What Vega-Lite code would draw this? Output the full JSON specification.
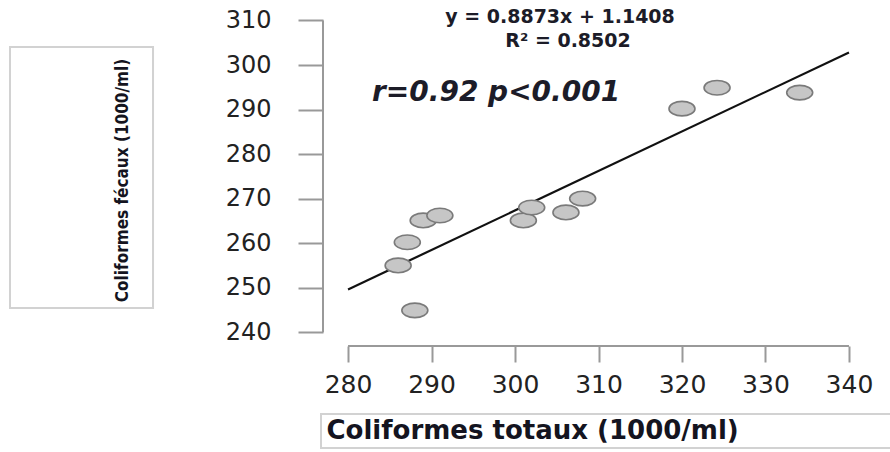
{
  "$schema": "https://vega.github.io/schema/vega-lite/v6.json",
  "autosize": "none",
  "width": 551,
  "height": 338,
  "padding": {"left": 323, "top": 8, "right": 16, "bottom": 106},
  "background": "white",
  "config": {"view": {"stroke": null}},
  "datasets": {
    "points": [
      {"totaux": 289.0, "fecaux": 265.1},
      {"totaux": 291.0, "fecaux": 266.2},
      {"totaux": 287.1, "fecaux": 260.2},
      {"totaux": 286.0, "fecaux": 255.0},
      {"totaux": 288.0, "fecaux": 244.9},
      {"totaux": 301.0, "fecaux": 265.1},
      {"totaux": 302.0, "fecaux": 268.0},
      {"totaux": 306.1, "fecaux": 266.9},
      {"totaux": 308.1, "fecaux": 270.0},
      {"totaux": 320.0, "fecaux": 290.2},
      {"totaux": 324.2, "fecaux": 294.9},
      {"totaux": 334.1, "fecaux": 293.8}
    ],
    "fit": [
      {"totaux": 280, "fecaux": 249.59},
      {"totaux": 340, "fecaux": 302.82}
    ],
    "one": [{}]
  },
  "layer": [
    {
      "data": {"name": "one"},
      "mark": {"type": "rect", "fillOpacity": 0, "stroke": "#d2d2d2", "strokeWidth": 2},
      "encoding": {
        "x": {"datum": 239.51, "type": "quantitative", "scale": {"domain": [277, 343], "nice": false, "zero": false},
          "axis": {
            "values": [280, 290, 300, 310, 320, 330, 340],
            "domain": false, "grid": false,
            "tickColor": "#999999", "tickWidth": 2, "tickSize": 16,
            "labelFont": "DejaVu Sans", "labelFontSize": 25, "labelColor": "#222222", "labelPadding": 10,
            "labelFlush": false, "labelOverlap": false,
            "title": "Coliformes totaux (1000/ml)",
            "titleFont": "DejaVu Sans", "titleFontWeight": "bold", "titleFontSize": 26, "titleColor": "#141420",
            "titleAlign": "left", "titleBaseline": "middle", "titleAnchor": "start",
            "titleX": 3, "titleY": 84
          }
        },
        "x2": {"datum": 256.64},
        "y": {"datum": 304.04, "type": "quantitative", "scale": {"domain": [236.9, 312.8], "nice": false, "zero": false},
          "axis": {
            "values": [240, 250, 260, 270, 280, 290, 300, 310],
            "domain": false, "grid": false,
            "tickColor": "#999999", "tickWidth": 2, "tickSize": 25,
            "labelFont": "DejaVu Sans", "labelFontSize": 24, "labelColor": "#222222", "labelPadding": 27,
            "labelFlush": false, "labelOverlap": false,
            "title": "Coliformes fécaux (1000/ml)",
            "titleFont": "Liberation Sans Narrow, DejaVu Sans Condensed, Roboto Condensed, Liberation Sans",
            "titleFontWeight": "bold", "titleFontSize": 17, "titleColor": "#141420",
            "titleAngle": 270, "titleAlign": "center", "titleBaseline": "middle",
            "titleX": -201, "titleY": 172
          }
        },
        "y2": {"datum": 245.43}
      }
    },
    {
      "data": {"name": "one"},
      "mark": {"type": "rect", "fillOpacity": 0, "stroke": "#d2d2d2", "strokeWidth": 2},
      "encoding": {
        "x": {"datum": 276.76, "type": "quantitative"},
        "x2": {"datum": 346.12},
        "y": {"datum": 221.63, "type": "quantitative"},
        "y2": {"datum": 213.99}
      }
    },
    {
      "data": {"name": "one"},
      "mark": {"type": "rule", "stroke": "#999999", "strokeWidth": 2},
      "encoding": {
        "x": {"datum": 280, "type": "quantitative"},
        "x2": {"datum": 340},
        "y": {"datum": 236.9, "type": "quantitative"}
      }
    },
    {
      "data": {"name": "one"},
      "mark": {"type": "rule", "stroke": "#999999", "strokeWidth": 2},
      "encoding": {
        "x": {"datum": 277, "type": "quantitative"},
        "y": {"datum": 240, "type": "quantitative"},
        "y2": {"datum": 310}
      }
    },
    {
      "data": {"name": "fit"},
      "mark": {"type": "line", "stroke": "#111111", "strokeWidth": 2.2},
      "encoding": {
        "x": {"field": "totaux", "type": "quantitative"},
        "y": {"field": "fecaux", "type": "quantitative"}
      }
    },
    {
      "data": {"name": "points"},
      "mark": {
        "type": "point",
        "shape": "M-1,0A1,0.56,0,1,0,1,0A1,0.56,0,1,0,-1,0Z",
        "size": 676,
        "filled": true,
        "fill": "#c6c6c6",
        "stroke": "#7a7a7a",
        "strokeWidth": 1.6,
        "opacity": 1
      },
      "encoding": {
        "x": {"field": "totaux", "type": "quantitative"},
        "y": {"field": "fecaux", "type": "quantitative"}
      }
    },
    {
      "data": {"name": "one"},
      "mark": {"type": "text", "text": "y = 0.8873x + 1.1408", "font": "DejaVu Sans", "fontWeight": "bold", "fontSize": 19, "color": "#1c1c28", "align": "center", "baseline": "middle"},
      "encoding": {
        "x": {"datum": 305.39, "type": "quantitative"},
        "y": {"datum": 310.78, "type": "quantitative"}
      }
    },
    {
      "data": {"name": "one"},
      "mark": {"type": "text", "text": "R² = 0.8502", "font": "DejaVu Sans", "fontWeight": "bold", "fontSize": 19, "color": "#1c1c28", "align": "center", "baseline": "middle"},
      "encoding": {
        "x": {"datum": 306.35, "type": "quantitative"},
        "y": {"datum": 305.39, "type": "quantitative"}
      }
    },
    {
      "data": {"name": "one"},
      "mark": {"type": "text", "text": "r=0.92 p<0.001", "font": "DejaVu Sans", "fontWeight": "bold", "fontStyle": "italic", "fontSize": 28, "color": "#1c1c28", "align": "left", "baseline": "middle"},
      "encoding": {
        "x": {"datum": 282.87, "type": "quantitative"},
        "y": {"datum": 293.71, "type": "quantitative"}
      }
    }
  ]
}
